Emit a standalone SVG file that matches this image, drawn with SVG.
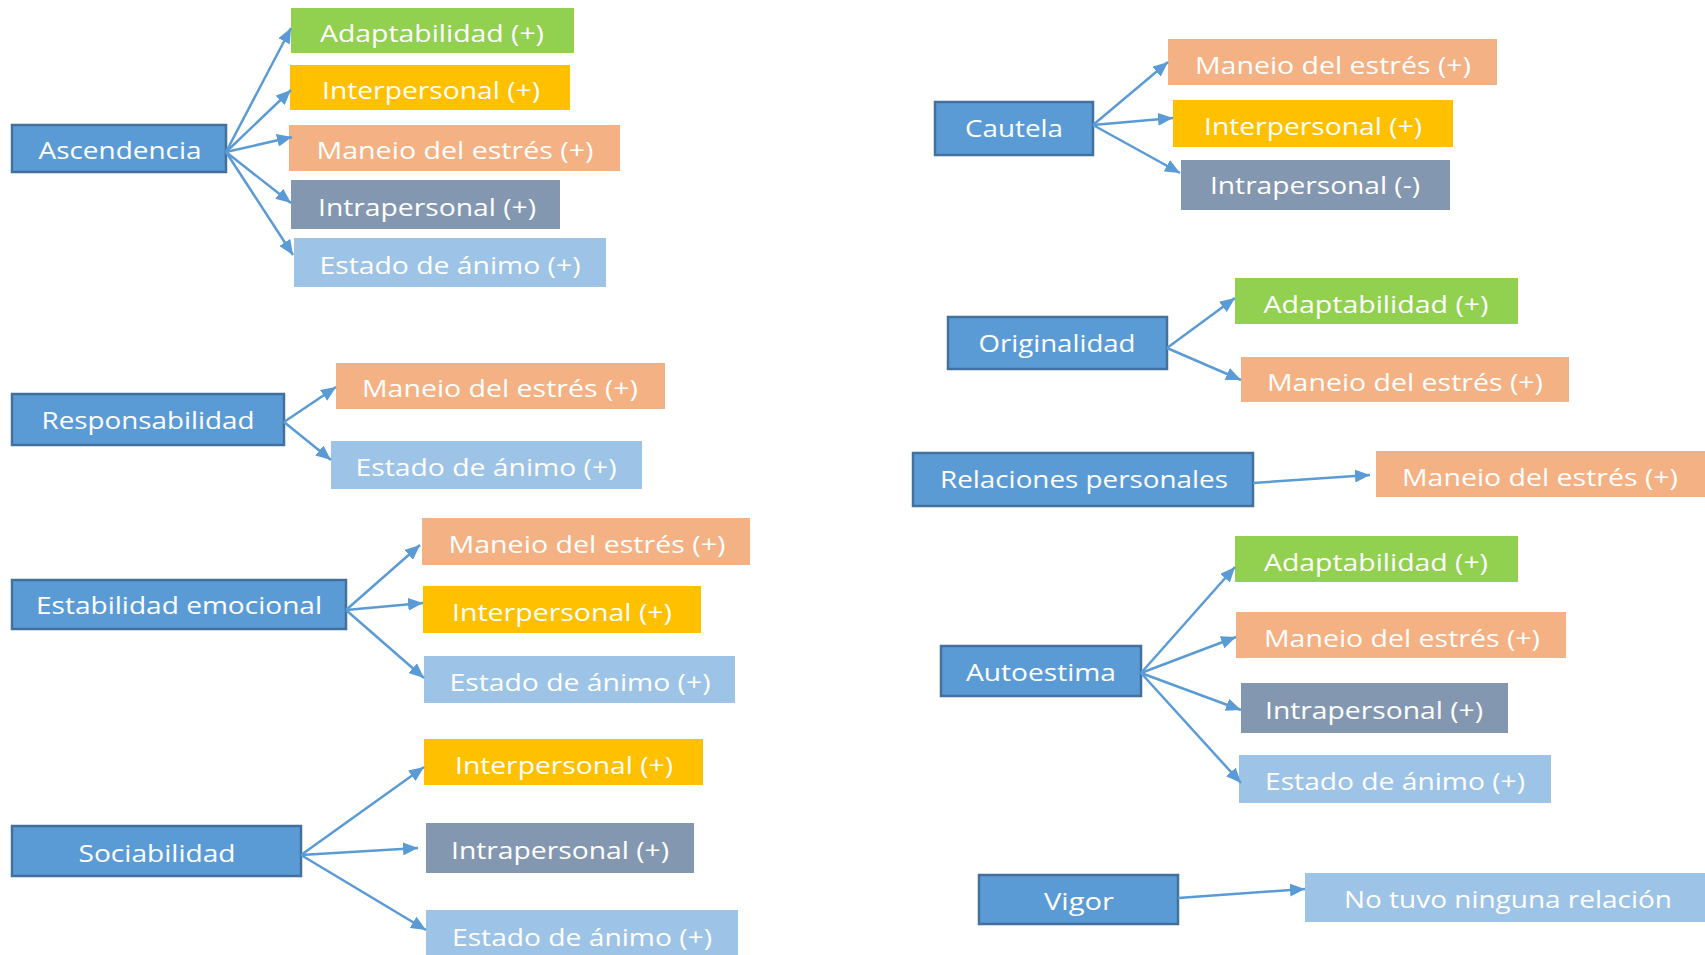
<svg xmlns="http://www.w3.org/2000/svg" width="1705" height="955" viewBox="0 0 1705 955">
<style>
.src{fill:#5B9BD5;stroke:#41719C;stroke-width:2.5}
.g{fill:#92D050}
.y{fill:#FFC000}
.o{fill:#F4B183}
.gr{fill:#8497B0}
.lb{fill:#9DC3E6}
text{font-family:"Open Sans","Liberation Sans",sans-serif;font-size:24px;fill:#FFFFFF;text-anchor:middle}
.c line{stroke:#5B9BD5;stroke-width:2.5;marker-end:url(#ah)}
</style>
<defs>
<marker id="ah" markerUnits="userSpaceOnUse" markerWidth="15" markerHeight="13" viewBox="0 0 15 13" refX="15" refY="6.5" orient="auto">
<path d="M0,0 L15,6.5 L0,13 Z" fill="#5B9BD5"/>
</marker>
</defs>
<rect width="1705" height="955" fill="#FFFFFF"/>

<g id="ascendencia"><rect class="src" x="12" y="125" width="214" height="47"/><text x="120" y="159" textLength="163" lengthAdjust="spacingAndGlyphs">Ascendencia</text></g>
<g id="asc-adapt"><rect class="g" x="291" y="8" width="283" height="45"/><text x="432" y="42" textLength="224" lengthAdjust="spacingAndGlyphs">Adaptabilidad (+)</text></g>
<g id="asc-inter"><rect class="y" x="290" y="65" width="280" height="45"/><text x="431" y="99" textLength="218" lengthAdjust="spacingAndGlyphs">Interpersonal (+)</text></g>
<g id="asc-estres"><rect class="o" x="289" y="125" width="331" height="46"/><text x="455" y="159" textLength="277" lengthAdjust="spacingAndGlyphs">Maneio del estrés (+)</text></g>
<g id="asc-intra"><rect class="gr" x="291" y="180" width="269" height="49"/><text x="427" y="216" textLength="218" lengthAdjust="spacingAndGlyphs">Intrapersonal (+)</text></g>
<g id="asc-animo"><rect class="lb" x="294" y="238" width="312" height="49"/><text x="450" y="274" textLength="261" lengthAdjust="spacingAndGlyphs">Estado de ánimo (+)</text></g>

<g id="responsabilidad"><rect class="src" x="12" y="394" width="272" height="51"/><text x="148" y="429" textLength="213" lengthAdjust="spacingAndGlyphs">Responsabilidad</text></g>
<g id="resp-estres"><rect class="o" x="336" y="363" width="329" height="46"/><text x="500" y="397" textLength="276" lengthAdjust="spacingAndGlyphs">Maneio del estrés (+)</text></g>
<g id="resp-animo"><rect class="lb" x="331" y="441" width="311" height="48"/><text x="486" y="476" textLength="261" lengthAdjust="spacingAndGlyphs">Estado de ánimo (+)</text></g>

<g id="estabilidad"><rect class="src" x="12" y="580" width="334" height="49"/><text x="179" y="614" textLength="286" lengthAdjust="spacingAndGlyphs">Estabilidad emocional</text></g>
<g id="est-estres"><rect class="o" x="422" y="518" width="328" height="47"/><text x="587" y="553" textLength="277" lengthAdjust="spacingAndGlyphs">Maneio del estrés (+)</text></g>
<g id="est-inter"><rect class="y" x="423" y="586" width="278" height="47"/><text x="562" y="621" textLength="220" lengthAdjust="spacingAndGlyphs">Interpersonal (+)</text></g>
<g id="est-animo"><rect class="lb" x="424" y="656" width="311" height="47"/><text x="580" y="691" textLength="261" lengthAdjust="spacingAndGlyphs">Estado de ánimo (+)</text></g>

<g id="sociabilidad"><rect class="src" x="12" y="826" width="289" height="50"/><text x="157" y="862" textLength="157" lengthAdjust="spacingAndGlyphs">Sociabilidad</text></g>
<g id="soc-inter"><rect class="y" x="424" y="739" width="279" height="46"/><text x="564" y="774" textLength="218" lengthAdjust="spacingAndGlyphs">Interpersonal (+)</text></g>
<g id="soc-intra"><rect class="gr" x="426" y="823" width="268" height="50"/><text x="560" y="859" textLength="218" lengthAdjust="spacingAndGlyphs">Intrapersonal (+)</text></g>
<g id="soc-animo"><rect class="lb" x="426" y="910" width="312" height="50"/><text x="582" y="946" textLength="260" lengthAdjust="spacingAndGlyphs">Estado de ánimo (+)</text></g>

<g id="cautela"><rect class="src" x="935" y="102" width="158" height="53"/><text x="1014" y="137" textLength="98" lengthAdjust="spacingAndGlyphs">Cautela</text></g>
<g id="cau-estres"><rect class="o" x="1168" y="39" width="329" height="46"/><text x="1333" y="74" textLength="276" lengthAdjust="spacingAndGlyphs">Maneio del estrés (+)</text></g>
<g id="cau-inter"><rect class="y" x="1173" y="100" width="280" height="47"/><text x="1313" y="135" textLength="218" lengthAdjust="spacingAndGlyphs">Interpersonal (+)</text></g>
<g id="cau-intra"><rect class="gr" x="1181" y="160" width="269" height="50"/><text x="1315" y="194" textLength="210" lengthAdjust="spacingAndGlyphs">Intrapersonal (-)</text></g>

<g id="originalidad"><rect class="src" x="948" y="317" width="219" height="52"/><text x="1057" y="352" textLength="157" lengthAdjust="spacingAndGlyphs">Originalidad</text></g>
<g id="ori-adapt"><rect class="g" x="1235" y="278" width="283" height="46"/><text x="1376" y="313" textLength="225" lengthAdjust="spacingAndGlyphs">Adaptabilidad (+)</text></g>
<g id="ori-estres"><rect class="o" x="1241" y="357" width="328" height="45"/><text x="1405" y="391" textLength="276" lengthAdjust="spacingAndGlyphs">Maneio del estrés (+)</text></g>

<g id="relaciones"><rect class="src" x="913" y="453" width="340" height="53"/><text x="1084" y="488" textLength="288" lengthAdjust="spacingAndGlyphs">Relaciones personales</text></g>
<g id="rel-estres"><rect class="o" x="1376" y="451" width="329" height="46"/><text x="1540" y="486" textLength="276" lengthAdjust="spacingAndGlyphs">Maneio del estrés (+)</text></g>

<g id="autoestima"><rect class="src" x="941" y="646" width="200" height="50"/><text x="1041" y="681" textLength="150" lengthAdjust="spacingAndGlyphs">Autoestima</text></g>
<g id="aut-adapt"><rect class="g" x="1235" y="536" width="283" height="46"/><text x="1376" y="571" textLength="224" lengthAdjust="spacingAndGlyphs">Adaptabilidad (+)</text></g>
<g id="aut-estres"><rect class="o" x="1236" y="612" width="330" height="46"/><text x="1402" y="647" textLength="276" lengthAdjust="spacingAndGlyphs">Maneio del estrés (+)</text></g>
<g id="aut-intra"><rect class="gr" x="1241" y="683" width="267" height="50"/><text x="1374" y="719" textLength="218" lengthAdjust="spacingAndGlyphs">Intrapersonal (+)</text></g>
<g id="aut-animo"><rect class="lb" x="1239" y="755" width="312" height="48"/><text x="1395" y="790" textLength="260" lengthAdjust="spacingAndGlyphs">Estado de ánimo (+)</text></g>

<g id="vigor"><rect class="src" x="979" y="875" width="199" height="49"/><text x="1079" y="910" textLength="70" lengthAdjust="spacingAndGlyphs">Vigor</text></g>
<g id="vig-nada"><rect class="lb" x="1305" y="873" width="400" height="49"/><text x="1508" y="908" textLength="328" lengthAdjust="spacingAndGlyphs">No tuvo ninguna relación</text></g>

<g id="connectors" class="c">
<line x1="226" y1="152" x2="291" y2="28"/>
<line x1="226" y1="152" x2="291" y2="90"/>
<line x1="226" y1="152" x2="292" y2="137"/>
<line x1="226" y1="152" x2="291" y2="203"/>
<line x1="226" y1="152" x2="293" y2="255"/>
<line x1="284" y1="422" x2="336" y2="387"/>
<line x1="284" y1="422" x2="331" y2="460"/>
<line x1="346" y1="610" x2="420" y2="545"/>
<line x1="346" y1="610" x2="423" y2="603"/>
<line x1="346" y1="610" x2="424" y2="678"/>
<line x1="301" y1="855" x2="424" y2="767"/>
<line x1="301" y1="855" x2="418" y2="848"/>
<line x1="301" y1="855" x2="426" y2="930"/>
<line x1="1093" y1="125" x2="1168" y2="62"/>
<line x1="1093" y1="125" x2="1173" y2="118"/>
<line x1="1093" y1="125" x2="1180" y2="173"/>
<line x1="1167" y1="348" x2="1235" y2="298"/>
<line x1="1167" y1="348" x2="1241" y2="380"/>
<line x1="1253" y1="483" x2="1370" y2="475"/>
<line x1="1141" y1="673" x2="1235" y2="567"/>
<line x1="1141" y1="673" x2="1236" y2="637"/>
<line x1="1141" y1="673" x2="1241" y2="710"/>
<line x1="1141" y1="673" x2="1241" y2="783"/>
<line x1="1178" y1="898" x2="1305" y2="889"/>
</g>
</svg>
